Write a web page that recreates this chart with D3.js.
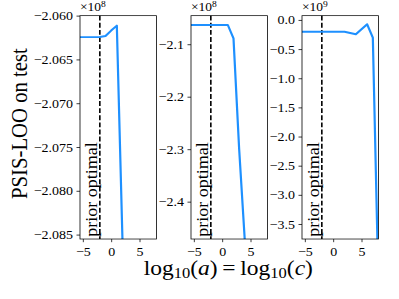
<!DOCTYPE html>
<html>
<head>
<meta charset="utf-8">
<script src="https://cdn.jsdelivr.net/npm/d3@7"></script>
<style>
  html, body { margin: 0; padding: 0; background: #fff; }
  svg { display: block; }
  text { font-family: "Liberation Serif", "Times New Roman", serif; fill: #000; }
</style>
</head>
<body>
<div id="chart"></div>
<script>
// x grid shared by the three panels: log10(a) = log10(c)
var xVals = [-6, -5, -4, -3, -2, -1, 0, 1, 2, 3, 4, 5, 6, 7, 8];

// PSIS-LOO on test, in units of the offset shown above each panel
var loo1 = [-2.06245, -2.06245, -2.06245, -2.06245, -2.06243, -2.06232, -2.0617, -2.06114, -2.0857, -2.2];
var loo2 = [-2.0633, -2.0633, -2.0633, -2.0633, -2.0633, -2.0633, -2.0633, -2.0633, -2.0887, -2.300, -2.475, -2.7];
var loo3 = [-0.201, -0.201, -0.201, -0.201, -0.201, -0.201, -0.201, -0.201, -0.201, -0.223, -0.246, -0.160, -0.074, -0.304, -4.6];

// axis limits and tick labels per panel
var yLims = [[-2.0855, -2.0600], [-2.4711, -2.0455], [-3.757, 0.074]];
var yTicks = [
  [-2.085, -2.080, -2.075, -2.070, -2.065, -2.060],
  [-2.4, -2.3, -2.2, -2.1],
  [-3.5, -3.0, -2.5, -2.0, -1.5, -1.0, -0.5, 0.0]
];
var yFormats = [".3f", ".1f", ".1f"];
var offsetExp = ["8", "8", "9"];
var xLim = [-5.5, 8];
var xTicks = [-5, 0, 5];
var priorOptimal = -2;

var series = [loo1, loo2, loo3];

// drawn on a taller canvas then squeezed to 399x299, like the reference
var W = 399, H = 332;
var lefts = [80, 191, 302];
var panelW = 76.5;
var plotTop = 17.4, plotBottom = 265.4;
var serif = "Liberation Serif, Times New Roman, serif";

var svg = d3.select("#chart").append("svg")
  .attr("width", 399)
  .attr("height", 299)
  .attr("viewBox", "0 0 " + W + " " + H)
  .attr("preserveAspectRatio", "none");

series.forEach(function(vals, p) {
  var x = d3.scaleLinear().domain(xLim).range([lefts[p], lefts[p] + panelW]);
  var y = d3.scaleLinear().domain(yLims[p]).range([plotBottom, plotTop]);

  var g = svg.append("g");

  svg.append("clipPath").attr("id", "clip" + p)
    .append("rect")
    .attr("x", lefts[p]).attr("y", plotTop)
    .attr("width", panelW).attr("height", plotBottom - plotTop);

  //dashed line at the prior optimum
  g.append("line")
    .attr("x1", x(priorOptimal)).attr("x2", x(priorOptimal))
    .attr("y1", plotTop).attr("y2", plotBottom)
    .attr("stroke", "#000")
    .attr("stroke-width", 1.6)
    .attr("stroke-dasharray", "5.5,2.4");

  g.append("text")
    .attr("transform", "translate(" + (x(priorOptimal) - 3.3) + "," + 263 + ") rotate(-90)")
    .attr("font-size", 16)
    .attr("textLength", 105)
    .attr("lengthAdjust", "spacingAndGlyphs")
    .text("prior optimal");

  var line = d3.line()
    .x(function(d, i) { return x(xVals[i]); })
    .y(function(d) { return y(d); });

  g.append("path")
    .datum(vals)
    .attr("clip-path", "url(#clip" + p + ")")
    .attr("fill", "none")
    .attr("stroke", "#1e90ff")
    .attr("stroke-width", 2.2)
    .attr("stroke-linejoin", "round")
    .attr("d", line);

  //axes
  var yAxis = g.append("g")
    .attr("transform", "translate(" + lefts[p] + ",0)")
    .call(d3.axisLeft(y).tickValues(yTicks[p]).tickFormat(d3.format(yFormats[p]))
      .tickSize(3.5).tickSizeOuter(0).tickPadding(3.5));

  var xAxis = g.append("g")
    .attr("transform", "translate(0," + plotBottom + ")")
    .call(d3.axisBottom(x).tickValues(xTicks).tickFormat(d3.format("d"))
      .tickSize(3.5).tickSizeOuter(0).tickPadding(5));

  [yAxis, xAxis].forEach(function(a) {
    a.select(".domain").remove();
    a.attr("font-family", serif).attr("font-size", 14);
    a.selectAll("line").attr("stroke", "#000").attr("stroke-width", 0.8);
  });

  //frame
  g.append("rect")
    .attr("x", lefts[p]).attr("y", plotTop)
    .attr("width", panelW).attr("height", plotBottom - plotTop)
    .attr("fill", "none")
    .attr("stroke", "#000")
    .attr("stroke-width", 0.8);

  //offset text, e.g. x10^8
  var off = g.append("text")
    .attr("x", lefts[p])
    .attr("y", 12.3)
    .attr("font-size", 13.5);
  off.append("tspan").text("\u00d710");
  off.append("tspan").attr("font-size", 9.5).attr("dy", -5).text(offsetExp[p]);
});

//y label
svg.append("text")
  .attr("transform", "translate(26.7,137.2) rotate(-90)")
  .attr("text-anchor", "middle")
  .attr("font-size", 23)
  .text("PSIS-LOO on test");

//x label: log10(a) = log10(c)
var xl = svg.append("text")
  .attr("x", 228.3)
  .attr("y", 305)
  .attr("text-anchor", "middle")
  .attr("font-size", 23.5);
xl.append("tspan").text("log");
xl.append("tspan").attr("font-size", 16.5).attr("dy", 4).text("10");
xl.append("tspan").attr("dy", -4).text("(");
xl.append("tspan").attr("font-style", "italic").text("a");
xl.append("tspan").text(")\u2009=\u2009log");
xl.append("tspan").attr("font-size", 16.5).attr("dy", 4).text("10");
xl.append("tspan").attr("dy", -4).text("(");
xl.append("tspan").attr("font-style", "italic").text("c");
xl.append("tspan").text(")");
</script>
</body>
</html>
